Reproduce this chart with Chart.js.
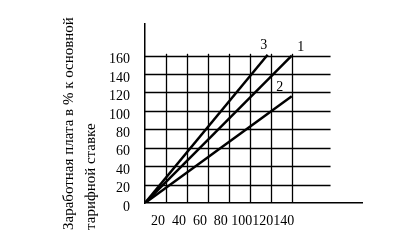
<!DOCTYPE html>
<html>
<head>
<meta charset="utf-8">
<script src="https://cdn.jsdelivr.net/npm/chart.js@4.4.0/dist/chart.umd.min.js"></script>
<style>
  html, body { margin: 0; padding: 0; background: #fff; }
  #wrap { width: 420px; height: 251px; }
</style>
</head>
<body>
<div id="wrap"><canvas id="chart" width="420" height="251"></canvas></div>
<script>
const seriesLabels = ['1', '2', '3'];
const line1X = [0, 140];
const line1Y = [0, 160];
const line2X = [0, 140];
const line2Y = [0, 116];
const line3X = [0, 117];
const line3Y = [0, 161];

const xTicks = [20, 40, 60, 80, 100, 120, 140];
const yTicks = [0, 20, 40, 60, 80, 100, 120, 140, 160];
const yTitle = ['Заработная плата в % к основной', 'тарифной ставке'];

const FONT = '"Liberation Serif", "Times New Roman", serif';

function toPoints(xs, ys) {
  return xs.map((x, i) => ({ x: x, y: ys[i] }));
}

// grid that stops short of the axis ends, like the original drawing
const gridPlugin = {
  id: 'grid',
  beforeDatasetsDraw(chart) {
    const { ctx, scales: { x, y } } = chart;
    ctx.save();
    ctx.strokeStyle = '#000';
    ctx.lineWidth = 1.3;
    yTicks.forEach(v => {
      if (v === 0) return;
      const py = Math.round(y.getPixelForValue(v)) + 0.5;
      ctx.beginPath();
      ctx.moveTo(x.getPixelForValue(0), py);
      ctx.lineTo(x.getPixelForValue(177), py);
      ctx.stroke();
    });
    xTicks.forEach(v => {
      const px = Math.round(x.getPixelForValue(v)) + 0.5;
      ctx.beginPath();
      ctx.moveTo(px, y.getPixelForValue(0));
      ctx.lineTo(px, y.getPixelForValue(162));
      ctx.stroke();
    });
    ctx.restore();
  },
  afterDraw(chart) {
    const { ctx } = chart;
    ctx.save();
    ctx.fillStyle = '#000';

    // line numbers near the end of each line
    const offsets = [[9, -8], [-12, -9], [-4, -9]];
    ctx.font = '14px ' + FONT;
    ctx.textAlign = 'center';
    ctx.textBaseline = 'middle';
    chart.data.datasets.forEach((ds, i) => {
      const pt = chart.getDatasetMeta(i).data[ds.data.length - 1];
      ctx.fillText(seriesLabels[i], pt.x + offsets[i][0], pt.y + offsets[i][1]);
    });

    // rotated y axis title, two lines
    ctx.font = '15px ' + FONT;
    ctx.textAlign = 'left';
    [69, 91].forEach((tx, i) => {
      ctx.save();
      ctx.translate(tx, 230);
      ctx.rotate(-Math.PI / 2);
      ctx.fillText(yTitle[i], 0, 0);
      ctx.restore();
    });
    ctx.restore();
  }
};

const ctx = document.getElementById('chart').getContext('2d');
new Chart(ctx, {
  type: 'line',
  data: {
    datasets: [
      { label: seriesLabels[0], data: toPoints(line1X, line1Y) },
      { label: seriesLabels[1], data: toPoints(line2X, line2Y) },
      { label: seriesLabels[2], data: toPoints(line3X, line3Y) }
    ].map(ds => Object.assign(ds, {
      borderColor: '#000',
      borderWidth: 2.5,
      pointRadius: 0,
      fill: false,
      tension: 0
    }))
  },
  options: {
    responsive: false,
    animation: false,
    layout: { padding: { top: 10, right: 58, left: 0, bottom: 0 } },
    plugins: {
      legend: { display: false },
      tooltip: { enabled: false }
    },
    scales: {
      x: {
        type: 'linear',
        min: 0,
        max: 207,
        afterFit(scale) { scale.height = 48; },
        afterBuildTicks(scale) { scale.ticks = xTicks.map(v => ({ value: v })); },
        grid: { display: false, drawTicks: false },
        border: { display: true, color: '#000', width: 1.5 },
        ticks: {
          color: '#000',
          padding: 10,
          labelOffset: -8,
          maxRotation: 0,
          autoSkip: false,
          font: { family: FONT, size: 14 }
        }
      },
      y: {
        type: 'linear',
        min: 0,
        max: 195,
        afterFit(scale) { scale.width = 145; },
        afterBuildTicks(scale) { scale.ticks = yTicks.map(v => ({ value: v })); },
        grid: { display: false, drawTicks: false },
        border: { display: true, color: '#000', width: 1.5 },
        ticks: {
          color: '#000',
          padding: 15,
          labelOffset: 4,
          autoSkip: false,
          font: { family: FONT, size: 14 }
        }
      }
    }
  },
  plugins: [gridPlugin]
});
</script>
</body>
</html>
